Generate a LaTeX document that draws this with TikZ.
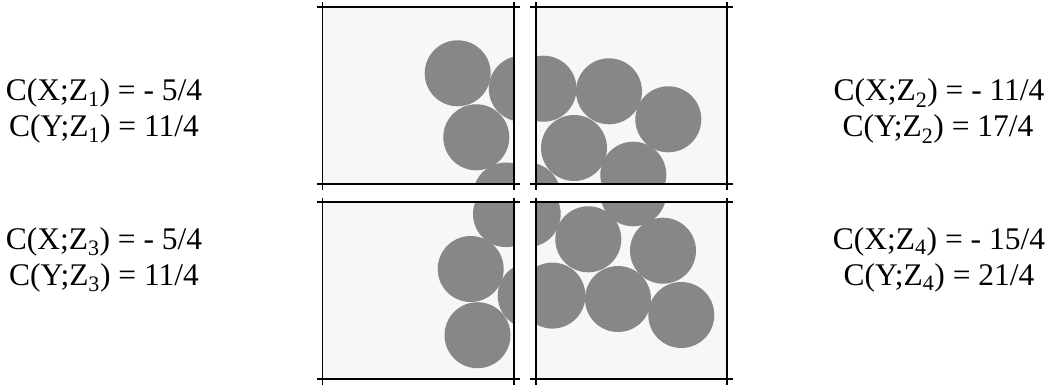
\documentclass[tikz,border=0pt]{standalone}
\usepackage{fontspec}
\setmainfont{Liberation Serif}
\definecolor{panelbg}{HTML}{F7F7F7}
\definecolor{disc}{HTML}{878787}
\tikzset{
  frameline/.style={line width=1.8pt, black},
  discfill/.style={fill=disc},
  lbl/.style={anchor=base, inner sep=0pt, font=\fontsize{31.5}{36}\selectfont},
}
\newcommand{\alldiscs}{%
  \foreach \cx/\cy in {457.7/73.3, 521.8/88.7, 476.3/137.3, 506/195.5,
                       587.3/91.3, 646.6/119.3, 552.3/148, 611.6/174.7,
                       566.6/220.7, 641.3/232.1, 470.7/250.4, 530.7/277,
                       477.5/316.6, 596.3/280.4, 659.6/296.4}
    {\fill[discfill] (\cx,\cy) circle[radius=33];}%
}
\newcommand{\panel}[6]{% x1 y1 x2 y2 dx dy
  \begin{scope}
    \clip (#1,#2) rectangle (#3,#4);
    \fill[panelbg] (#1,#2) rectangle (#3,#4);
    \begin{scope}[shift={(#5,#6)}]
      \alldiscs
    \end{scope}
  \end{scope}
  \draw[frameline] (#1-5.5,#2) -- (#3+5.5,#2);
  \draw[frameline] (#1-5.5,#4) -- (#3+5.5,#4);
  \draw[frameline] (#1,#2-4.5) -- (#1,#4+6);
  \draw[frameline] (#3,#2-4.5) -- (#3,#4+6);
}
\begin{document}
\begin{tikzpicture}[x=1pt,y=-1pt]
  \useasboundingbox (0,0) rectangle (1053,385);
  \panel{322.5}{6.7}{514}{183.7}{0}{0}
  \panel{535.7}{6.7}{727.3}{183.7}{21.7}{0}
  \panel{322.5}{202.3}{514}{379}{0}{18.6}
  \panel{535.7}{202.3}{727.3}{379}{21.7}{18.6}

  \node[lbl] (l1a) at (104,101) {C(X;Z\textsubscript{1}) = - 5/4};
  \node[lbl] (l1b) at (104,137) {C(Y;Z\textsubscript{1}) = 11/4};
  \node[lbl] (l2a) at (939,101) {C(X;Z\textsubscript{2}) = - 11/4};
  \node[lbl] (l2b) at (938,137) {C(Y;Z\textsubscript{2}) = 17/4};
  \node[lbl] (l3a) at (104,249) {C(X;Z\textsubscript{3}) = - 5/4};
  \node[lbl] (l3b) at (104,285) {C(Y;Z\textsubscript{3}) = 11/4};
  \node[lbl] (l4a) at (939,249) {C(X;Z\textsubscript{4}) = - 15/4};
  \node[lbl] (l4b) at (939,285) {C(Y;Z\textsubscript{4}) = 21/4};
\end{tikzpicture}
\end{document}
